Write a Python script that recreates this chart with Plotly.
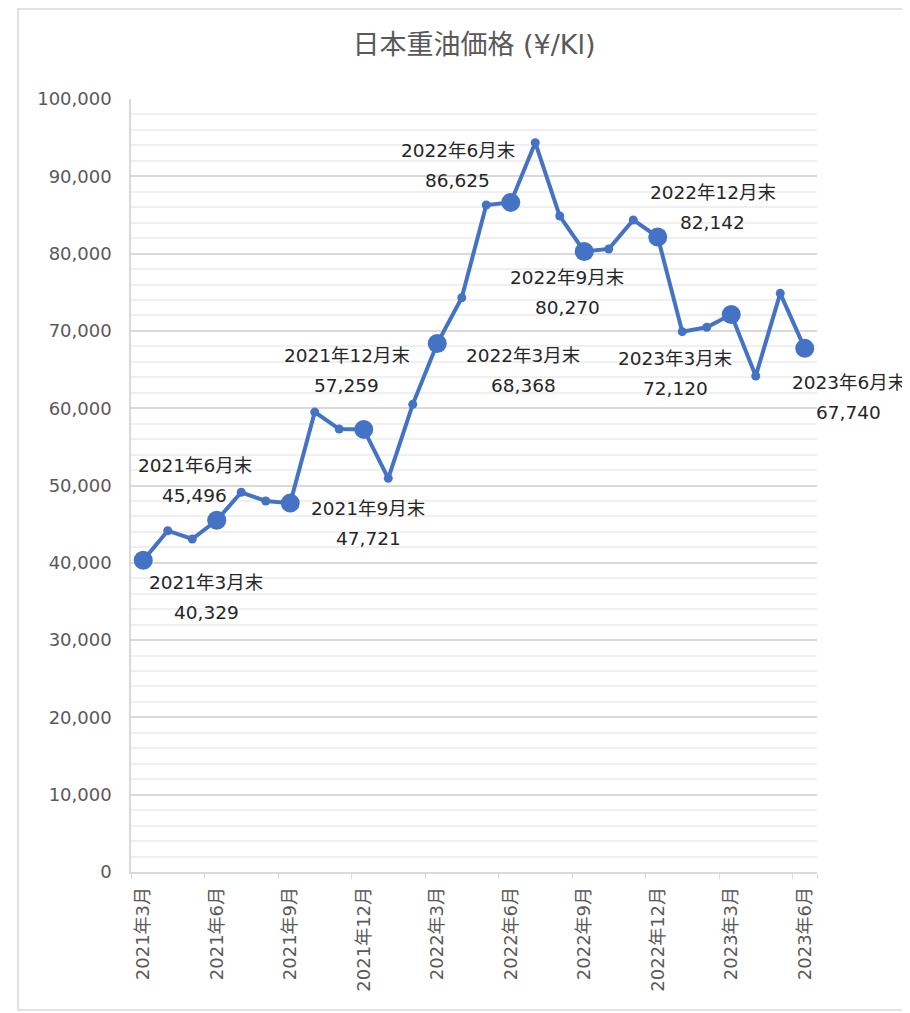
import plotly.graph_objects as go

title = "日本重油価格 (¥/Kl)"
months = [
    "2021年3月", "2021年4月", "2021年5月", "2021年6月", "2021年7月", "2021年8月",
    "2021年9月", "2021年10月", "2021年11月", "2021年12月", "2022年1月", "2022年2月",
    "2022年3月", "2022年4月", "2022年5月", "2022年6月", "2022年7月", "2022年8月",
    "2022年9月", "2022年10月", "2022年11月", "2022年12月", "2023年1月", "2023年2月",
    "2023年3月", "2023年4月", "2023年5月", "2023年6月",
]
prices = [
    40329, 44150, 43080, 45496, 49120, 48000,
    47721, 59500, 57300, 57259, 50930, 60500,
    68368, 74290, 86290, 86625, 94350, 84860,
    80270, 80600, 84350, 82142, 69900, 70470,
    72120, 64170, 74860, 67740,
]
quarter_idx = [0, 3, 6, 9, 12, 15, 18, 21, 24, 27]

# label offsets in pixels (dx, dy of the name line; value line sits below)
label_offsets = [
    (63, -22), (-22, 55), (78, -5), (-17, 74), (86, -12),
    (-53, 52), (-17, -26), (55, 45), (-56, -44), (44, -34),
]

BLUE = "#4472C4"
FONT = "DejaVu Sans, Noto Sans CJK JP"

# page body has an 8px margin: plot area in page px 131..817 x 99..872
L, R, T, B = 123, 809, 91, 864
W, H = 910, 1013
pw, ph = R - L, B - T

x = list(range(len(months)))
fig = go.Figure()
fig.add_trace(go.Scatter(
    x=x, y=prices, mode="lines+markers",
    line=dict(color=BLUE, width=4),
    marker=dict(color=BLUE, size=9),
    hoverinfo="skip", showlegend=False,
))
fig.add_trace(go.Scatter(
    x=[x[i] for i in quarter_idx], y=[prices[i] for i in quarter_idx], mode="markers",
    marker=dict(color=BLUE, size=19),
    hoverinfo="skip", showlegend=False,
))

annotations = []
for (i, (dx, dy)) in zip(quarter_idx, label_offsets):
    annotations.append(dict(
        x=x[i], y=prices[i], xref="x", yref="y", text=months[i] + "末",
        showarrow=False, xshift=dx, yshift=dy,
        font=dict(family=FONT, size=18.5, color="#262626"),
    ))
    annotations.append(dict(
        x=x[i], y=prices[i], xref="x", yref="y", text=f"{prices[i]:,}",
        showarrow=False, xshift=dx, yshift=dy - 30,
        font=dict(family=FONT, size=18.5, color="#262626"),
    ))

fig.update_layout(
    width=W, height=H,
    margin=dict(l=L, r=W - R, t=T, b=H - B),
    paper_bgcolor="white", plot_bgcolor="white",
    title=dict(text=title, x=(466 - L) / pw, xref="paper", xanchor="center",
               y=1 - 37 / H, yanchor="middle",
               font=dict(family=FONT, size=27, color="#595959")),
    font=dict(family=FONT, color="#595959"),
    annotations=annotations,
    shapes=[dict(type="rect", xref="paper", yref="paper",
                 x0=(10 - L) / pw, x1=(898 - L) / pw,
                 y0=(B - 1002) / ph, y1=(B - 1) / ph,
                 line=dict(color="#d9d9d9", width=1.5), layer="below")],
)
fig.update_xaxes(
    range=[-0.5, len(months) - 0.5],
    tickvals=[x[i] for i in quarter_idx], ticktext=[months[i] for i in quarter_idx],
    tickangle=-90, ticks="", showgrid=False, zeroline=False,
    showline=True, linecolor="#d9d9d9", linewidth=1.5,
    tickfont=dict(family=FONT, size=18, color="#595959"),
    ticklabelstandoff=6,
    minor=dict(tickvals=[i - 0.5 for i in quarter_idx] + [len(months) - 0.5],
               ticks="outside", ticklen=5, tickcolor="#d9d9d9", showgrid=False),
)
fig.update_yaxes(
    range=[0, 100000], dtick=10000, tickformat=",d",
    showgrid=True, gridcolor="#d9d9d9", gridwidth=1.5,
    zeroline=False, showline=True, linecolor="#d9d9d9", linewidth=1.5,
    tickfont=dict(family=FONT, size=18, color="#595959"),
    ticklabelstandoff=14,
    minor=dict(dtick=2000, showgrid=True, gridcolor="#f0f0f0", gridwidth=1.5),
)

fig.write_html("out.html")
